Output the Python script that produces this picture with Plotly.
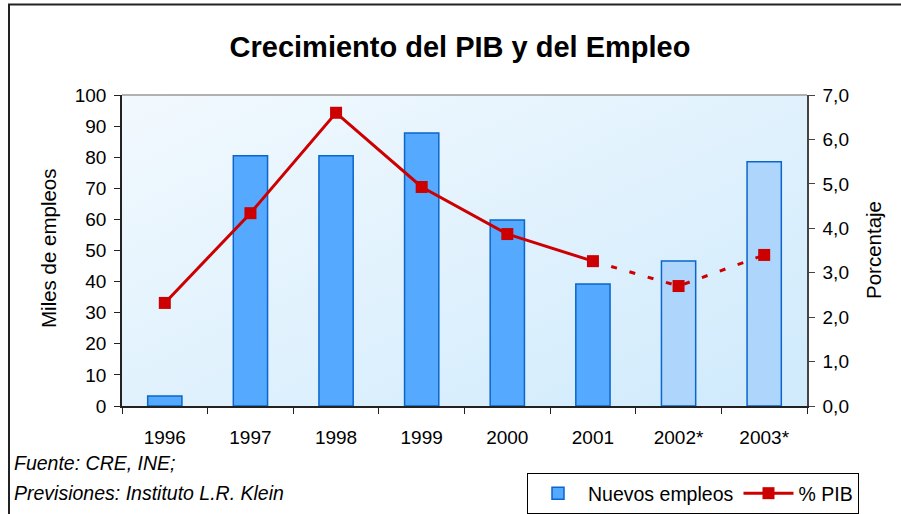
import plotly.graph_objects as go

years = ["1996", "1997", "1998", "1999", "2000", "2001", "2002*", "2003*"]
empleos = [3.2, 80.5, 80.5, 87.8, 59.8, 39.2, 46.6, 78.5]
pib = [2.32, 4.34, 6.6, 4.93, 3.87, 3.26, 2.7, 3.4]
n_real = 6  # first 6 are observed, rest are forecasts

bar_fill = "#55aaff"
bar_fill_fc = "#aed5fc"
bar_line = "#0a66cc"
red = "#cc0000"

fig = go.Figure()

colors = [bar_fill if i < n_real else bar_fill_fc for i in range(len(years))]

fig.add_trace(go.Bar(
    x=years, y=empleos, name="Nuevos empleos", width=0.4,
    marker=dict(color=colors, line=dict(color=bar_line, width=1.5)),
    yaxis="y",
))

fig.add_trace(go.Scatter(
    x=years[:n_real], y=pib[:n_real], name="% PIB", mode="lines+markers",
    line=dict(color=red, width=3),
    marker=dict(symbol="square", size=12, color=red),
    yaxis="y2",
))
fig.add_trace(go.Scatter(
    x=years[n_real - 1:], y=pib[n_real - 1:], name="% PIB", mode="lines+markers",
    line=dict(color=red, width=3, dash="6px,13px"),
    marker=dict(symbol="square", size=12, color=red, opacity=[0] + [1] * (len(years) - n_real)),
    yaxis="y2", showlegend=False,
))

svg = ("data:image/svg+xml;utf8,"
       "<svg xmlns='http://www.w3.org/2000/svg' width='100' height='100' preserveAspectRatio='none'>"
       "<defs><linearGradient id='g' x1='0' y1='0' x2='1' y2='1'>"
       "<stop offset='0' stop-color='%23f2f9fe'/><stop offset='1' stop-color='%23cfeafc'/>"
       "</linearGradient></defs><rect width='100' height='100' fill='url(%23g)'/></svg>")

W, H = 901, 514
L, R, T, B = 122, 807, 95, 406  # plot area in pixels
pw, ph = R - L, B - T


def px(x):
    return (x - L) / pw


def py(y):
    return (B - y) / ph


font = "Liberation Sans, Arial, sans-serif"

fig.update_layout(
    width=W, height=H,
    margin=dict(l=L, r=W - R, t=T, b=H - B, autoexpand=False),
    paper_bgcolor="white",
    plot_bgcolor="rgba(0,0,0,0)",
    separators=",.",
    font=dict(family=font, size=19, color="black"),
    title=dict(text="<b>Crecimiento del PIB y del Empleo</b>", x=460 / W,
               xanchor="center", y=1 - 47 / H, yanchor="middle",
               font=dict(size=29, family=font)),
    xaxis=dict(type="category", showline=True, linecolor="#222", linewidth=1.5,
               ticks="outside", tickson="boundaries", ticklen=6, tickcolor="#222",
               showgrid=False, tickfont=dict(size=19), ticklabelstandoff=13),
    yaxis=dict(range=[0, 100], dtick=10, showline=True, linecolor="#222", linewidth=1.5,
               ticks="outside", ticklen=6, tickcolor="#222", showgrid=False, zeroline=False,
               tickfont=dict(size=19), ticklabelstandoff=4),
    yaxis2=dict(range=[0, 7], dtick=1, tickformat=".1f", overlaying="y", side="right",
                showline=True, linecolor="#444", linewidth=1.5, ticks="outside", ticklen=6,
                tickcolor="#444", showgrid=False, zeroline=False, tickfont=dict(size=19),
                ticklabelstandoff=4),
    legend=dict(orientation="h", x=px(527), y=py(473), xanchor="left", yanchor="top",
                bgcolor="white", bordercolor="black", borderwidth=1,
                font=dict(size=19.5), traceorder="normal", itemwidth=50),
    images=[dict(source=svg, xref="paper", yref="paper", x=0, y=1, sizex=1, sizey=1,
                 sizing="stretch", layer="below")],
    shapes=[
        dict(type="line", xref="paper", yref="paper", x0=0, x1=1, y0=1, y1=1,
             line=dict(color="#999", width=1.5)),
        dict(type="rect", xref="paper", yref="paper", x0=px(9), x1=px(920),
             y0=py(530), y1=py(4.5), line=dict(color="#222", width=2), layer="below"),
    ],
    annotations=[
        dict(text="Miles de empleos", xref="paper", yref="paper", x=px(48), y=py(248),
             xanchor="center", yanchor="middle", textangle=-90, showarrow=False,
             font=dict(size=20.5)),
        dict(text="Porcentaje", xref="paper", yref="paper", x=px(873), y=py(250),
             xanchor="center", yanchor="middle", textangle=-90, showarrow=False,
             font=dict(size=20.5)),
        dict(text="<i>Fuente: CRE, INE;</i>", xref="paper", yref="paper", x=px(12), y=py(463),
             xanchor="left", yanchor="middle", showarrow=False, font=dict(size=19.5)),
        dict(text="<i>Previsiones: Instituto L.R. Klein</i>", xref="paper", yref="paper",
             x=px(12), y=py(493), xanchor="left", yanchor="middle", showarrow=False,
             font=dict(size=19.5)),
    ],
)

fig.write_html("out.html", config={"displayModeBar": False},
               post_script="document.body.style.margin='0';")
